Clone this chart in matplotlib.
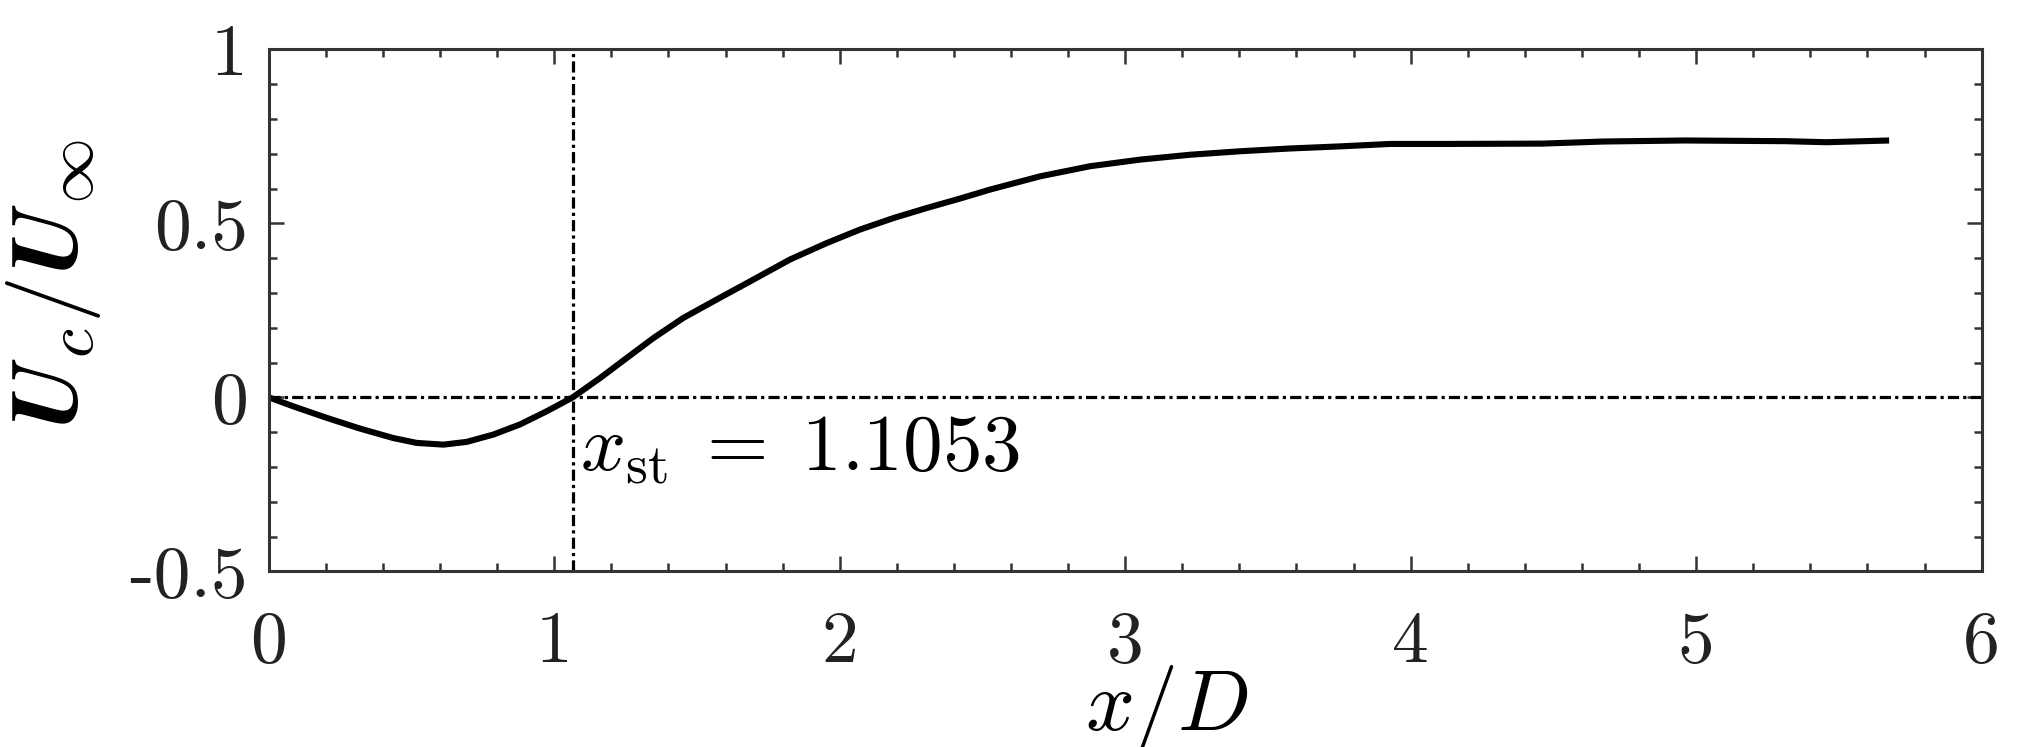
import numpy as np
import matplotlib
matplotlib.use('Agg')
from matplotlib import pyplot as plt

# centreline velocity
x_d = [0, 0.086, 0.203, 0.320, 0.436, 0.518, 0.612, 0.694, 0.787, 0.880, 0.974, 1.065,
       1.160, 1.254, 1.347, 1.452, 1.569, 1.697, 1.826, 1.954, 2.071, 2.188, 2.305,
       2.421, 2.527, 2.702, 2.877, 3.052, 3.227, 3.402, 3.577, 3.752, 3.927, 4.102, 4.461,
       4.674, 4.959, 5.314, 5.456, 5.676]
uc = [0, -0.026, -0.059, -0.090, -0.117, -0.131, -0.136, -0.128, -0.107, -0.078, -0.040, 0.0,
      0.055, 0.113, 0.170, 0.228, 0.281, 0.338, 0.396, 0.443, 0.482, 0.515, 0.544,
      0.571, 0.597, 0.635, 0.664, 0.683, 0.697, 0.707, 0.715, 0.721, 0.728, 0.728, 0.729,
      0.735, 0.738, 0.736, 0.733, 0.738]
x_st_line = 1.065
x_st_label = r'$x_{\rm st}\;=\;1.1053$'

xticks = [0, 1, 2, 3, 4, 5, 6]
xtick_labels = ['0', '1', '2', '3', '4', '5', '6']
yticks = [-0.5, 0, 0.5, 1]
ytick_labels = ['-0.5', '0', '0.5', '1']

plt.rcParams['font.family'] = 'cmr10'
plt.rcParams['mathtext.fontset'] = 'cm'
plt.rcParams['axes.unicode_minus'] = False

fig = plt.figure(figsize=(20.36, 7.47), dpi=100)
ax = fig.add_axes([0.132, 0.2352, 0.8413, 0.6988])

dashdot = (0, (3.5, 1.3, 1.0, 1.3))
ax.axhline(0, color='black', lw=2.3, linestyle=dashdot)
ax.axvline(x_st_line, color='black', lw=2.3, linestyle=dashdot)
ax.plot(x_d, uc, color='black', lw=4.4, solid_joinstyle='round', solid_capstyle='butt')

ax.text(1.09, -0.209, x_st_label, fontsize=57, va='baseline', ha='left')

ax.set_xlim(0, 6)
ax.set_ylim(-0.5, 1)
ax.set_xticks(xticks, labels=xtick_labels)
ax.set_yticks(yticks, labels=ytick_labels)
ax.set_xticks(np.arange(0, 6.01, 0.2), minor=True)
ax.set_yticks(np.arange(-0.5, 1.01, 0.1), minor=True)
ax.tick_params(which='both', direction='in', top=True, right=True, color='#333333', width=1.8)
ax.tick_params(which='major', length=11, labelsize=53, labelcolor='#222222')
ax.tick_params(which='minor', length=6)
ax.tick_params(axis='x', which='major', pad=29)
ax.tick_params(axis='y', which='major', pad=15)
for s in ax.spines.values():
    s.set_linewidth(2.2)
    s.set_color('#333333')

ax.set_xlabel(r'$x/D$', fontsize=62)
ax.set_ylabel(r'$\boldsymbol{U}_c/\boldsymbol{U}_\infty$', fontsize=68)
ax.xaxis.set_label_coords(0.524, -0.175)
ax.yaxis.set_label_coords(-0.097, 0.55)

fig.savefig('out.png', dpi=100)
